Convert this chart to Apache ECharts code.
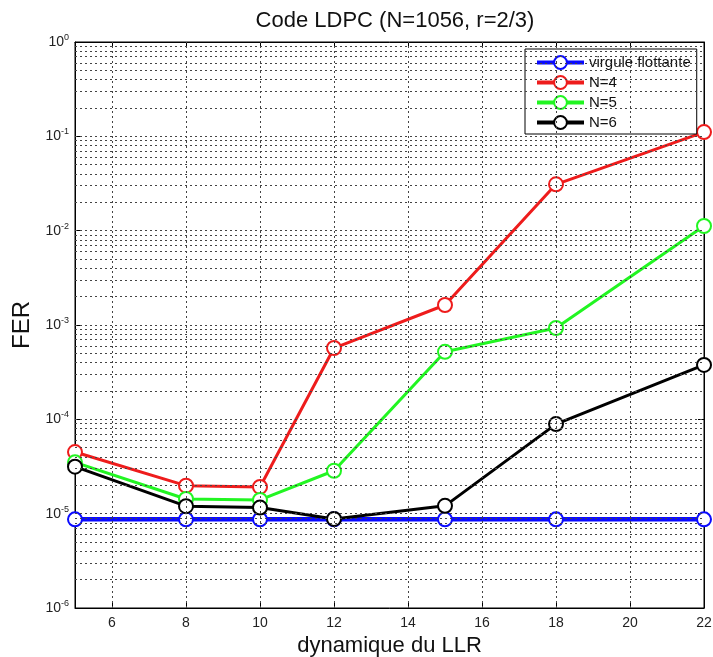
<!DOCTYPE html>
<html>
<head>
<meta charset="utf-8">
<script src="https://cdn.jsdelivr.net/npm/echarts@6/dist/echarts.min.js"></script>
<style>html,body{margin:0;padding:0;background:#fff;}#c{width:713px;height:657px;}</style>
</head>
<body>
<div id="c"></div>
<script>
const titleText = 'Code LDPC (N=1056, r=2/3)';
const xName = 'dynamique du LLR';
const yName = 'FER';
const xValues = [5, 8, 10, 12, 15, 18, 22];
const xTickValues = [6, 8, 10, 12, 14, 16, 18, 20, 22];
const seriesNames = ['virgule flottante', 'N=4', 'N=5', 'N=6'];
const floating = [8.7e-6, 8.7e-6, 8.7e-6, 8.7e-6, 8.7e-6, 8.7e-6, 8.7e-6];
const n4 = [4.5e-5, 1.98e-5, 1.92e-5, 5.7e-4, 1.63e-3, 3.1e-2, 1.11e-1];
const n5 = [3.5e-5, 1.43e-5, 1.40e-5, 2.85e-5, 5.2e-4, 9.3e-4, 1.12e-2];
const n6 = [3.15e-5, 1.2e-5, 1.16e-5, 8.8e-6, 1.21e-5, 8.9e-5, 3.77e-4];
const colors = ['#0a0aff', '#ee1c1c', '#22f522', '#000000'];

const yMin = 1e-6, yMax = 1;
// grid lines (matlab style: at every 1..9 x 10^k)
const hLines = [];
for (let e = -6; e <= 0; e++) {
  for (let m = 1; m <= 9; m++) {
    const v = m * Math.pow(10, e);
    if (v > yMin * 1.0001 && v < yMax * 0.9999) hLines.push({ yAxis: v });
  }
}
const vLines = [6, 8, 10, 12, 14, 16, 18, 20].map(v => ({ xAxis: v }));

const font = 'Liberation Sans, Arial, Helvetica, sans-serif';
const gridLineStyle = { color: '#444', width: 1, type: [2, 3] };

function pairs(ys) { return xValues.map((x, i) => [x, ys[i]]); }

const chart = echarts.init(document.getElementById('c'), null, { renderer: 'canvas' });
const mkSeries = (name, ys, color, lw) => ({
  name: name, type: 'line', data: pairs(ys),
  symbol: 'emptyCircle', symbolSize: 14,
  lineStyle: { color: color, width: lw },
  itemStyle: { color: color, borderColor: color, borderWidth: 3 },
  emphasis: { disabled: true }, animation: false, z: 3
});

chart.setOption({
  animation: false,
  textStyle: { fontFamily: font },
  title: {
    text: titleText, left: 390, top: 5, textAlign: 'center',
    textStyle: { fontFamily: font, fontSize: 22, fontWeight: 'normal', color: '#111' }
  },
  grid: { left: 75, right: 9, top: 42, bottom: 49, outerBoundsMode: 'none', containLabel: false, show: true, borderColor: '#000', borderWidth: 1, backgroundColor: '#fff' },
  legend: {
    data: seriesNames, orient: 'vertical', left: 525, top: 49,
    padding: [6, 6, 4, 10], itemWidth: 47, itemHeight: 16, itemGap: 5,
    backgroundColor: '#fff', borderColor: '#000', borderWidth: 1,
    lineStyle: { width: 4 },
    itemStyle: { borderWidth: 3 },
    textStyle: { fontFamily: font, fontSize: 15, color: '#111' }
  },
  xAxis: [{
    type: 'value', min: 5, max: 22, position: 'bottom',
    name: xName, nameLocation: 'middle', nameGap: 20,
    nameTextStyle: { fontFamily: font, fontSize: 22, color: '#111' },
    axisLine: { show: true, lineStyle: { color: '#000' } },
    axisTick: { show: true, inside: true, length: 6, customValues: xTickValues, lineStyle: { color: '#000' } },
    axisLabel: { show: true, customValues: xTickValues, margin: 8, fontFamily: font, fontSize: 14, color: '#222' },
    splitLine: { show: false }
  }, {
    type: 'value', min: 5, max: 22, position: 'top',
    axisLine: { show: true, lineStyle: { color: '#000' } },
    axisTick: { show: true, inside: true, length: 6, customValues: xTickValues, lineStyle: { color: '#000' } },
    axisLabel: { show: false }, splitLine: { show: false }
  }],
  yAxis: [{
    type: 'log', logBase: 10, min: yMin, max: yMax, splitNumber: 6, position: 'left',
    name: yName, nameLocation: 'middle', nameGap: 40, nameRotate: 90,
    nameTextStyle: { fontFamily: font, fontSize: 24, color: '#111' },
    axisLine: { show: true, lineStyle: { color: '#000' } },
    axisTick: { show: true, inside: true, length: 6, lineStyle: { color: '#000' } },
    axisLabel: {
      show: true, margin: 6, fontFamily: font, fontSize: 14, color: '#222',
      formatter: function (v) { const e = Math.round(Math.log10(v)); return '10{s|' + e + '}'; },
      rich: { s: { fontSize: 9, fontFamily: font, color: '#222', padding: [0, 0, 9, 0] } }
    },
    splitLine: { show: false }
  }, {
    type: 'log', logBase: 10, min: yMin, max: yMax, splitNumber: 6, position: 'right',
    axisLine: { show: true, lineStyle: { color: '#000' } },
    axisTick: { show: true, inside: true, length: 6, lineStyle: { color: '#000' } },
    axisLabel: { show: false }, splitLine: { show: false }
  }],
  series: [
    {
      name: '_grid', type: 'line', data: [], silent: true, z: 1,
      markLine: {
        silent: true, symbol: ['none', 'none'], animation: false, precision: 12,
        label: { show: false }, lineStyle: gridLineStyle,
        emphasis: { disabled: true },
        data: hLines.concat(vLines)
      }
    },
    mkSeries(seriesNames[0], floating, colors[0], 4.5),
    mkSeries(seriesNames[1], n4, colors[1], 3),
    mkSeries(seriesNames[2], n5, colors[2], 3),
    mkSeries(seriesNames[3], n6, colors[3], 3)
  ]
});
</script>
</body>
</html>
